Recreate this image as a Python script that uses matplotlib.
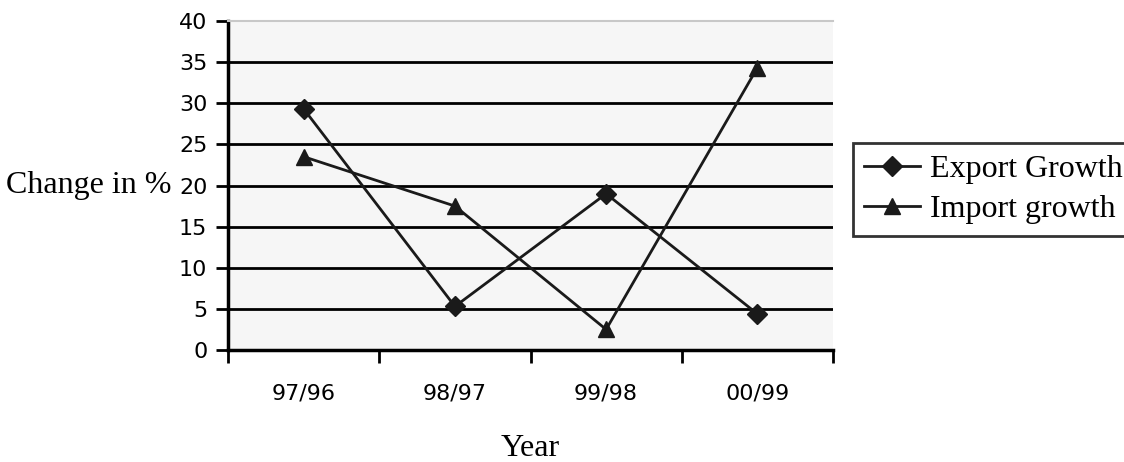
import matplotlib
matplotlib.use("Agg")
import matplotlib.pyplot as plt
from matplotlib.ticker import FixedLocator, NullFormatter

years = ["97/96", "98/97", "99/98", "00/99"]
export_growth = [29.3, 5.3, 19.0, 4.4]
import_growth = [23.5, 17.5, 2.5, 34.3]
y_ticks = [0, 5, 10, 15, 20, 25, 30, 35, 40]

fig = plt.figure(figsize=(11.24, 4.62), dpi=100)
ax = fig.add_axes([0.203, 0.2424, 0.538, 0.7121])
ax.set_facecolor("#f6f6f6")

x = list(range(len(years)))
ax.plot(x, export_growth, color="#1a1a1a", linewidth=2, marker="D",
        markersize=10, label="Export Growth")
ax.plot(x, import_growth, color="#1a1a1a", linewidth=2, marker="^",
        markersize=12, label="Import growth")

ax.set_xlim(-0.5, len(years) - 0.5)
ax.set_ylim(0, 40)
ax.set_yticks(y_ticks)
ax.set_xticks(x)
ax.set_xticklabels(years, fontsize=16, family="DejaVu Sans")
ax.xaxis.set_minor_locator(FixedLocator([i - 0.5 for i in range(len(years) + 1)]))
ax.xaxis.set_minor_formatter(NullFormatter())
ax.tick_params(axis="x", which="major", length=0, pad=24)
ax.tick_params(axis="x", which="minor", length=9, width=2, direction="out")
ax.tick_params(axis="y", length=9, width=2, direction="out", labelsize=16, pad=6)

for v in y_ticks[1:-1]:
    ax.axhline(v, color="black", linewidth=2, zorder=1)

for s in ["left", "bottom"]:
    ax.spines[s].set_linewidth(2.5)
    ax.spines[s].set_color("black")
ax.spines["right"].set_visible(False)
ax.spines["top"].set_color("#c8c8c8")
ax.spines["top"].set_linewidth(1.5)

ax.set_xlabel("Year", family="Liberation Serif", fontsize=23, labelpad=22)
ax.set_ylabel("Change in %", family="Liberation Serif", fontsize=23,
              rotation=0, ha="right", va="center")
ax.yaxis.set_label_coords(-0.093, 0.5)

leg = fig.legend(loc="center left", bbox_to_anchor=(0.759, 0.59),
                 prop={"family": "Liberation Serif", "size": 23},
                 frameon=True, fancybox=False, edgecolor="black",
                 handlelength=1.75, handletextpad=0.3, borderpad=0.35,
                 labelspacing=0.35, borderaxespad=0)
leg.get_frame().set_linewidth(2)

fig.savefig("out.png", dpi=100)
